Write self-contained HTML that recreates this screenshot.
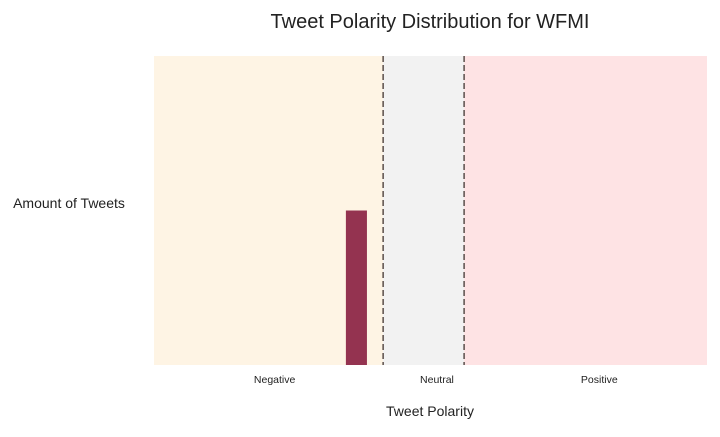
<!DOCTYPE html>
<html><head><meta charset="utf-8"><style>
body{margin:0;background:#fff;width:720px;height:432px;overflow:hidden;font-family:"Liberation Sans",sans-serif}
</style></head><body>
<svg id="chart" width="720" height="432">
<text x="430" y="28" text-anchor="middle" font-size="20" fill="#222">Tweet Polarity Distribution for WFMI</text>
<text x="69" y="208" text-anchor="middle" font-size="14" fill="#222">Amount of Tweets</text>
<text x="430" y="416" text-anchor="middle" font-size="14" fill="#222">Tweet Polarity</text>
<g id="plot"></g>
</svg>
<script>
const binStarts=[-0.096];
const binEnds=[-0.070];
const counts=[1];
const regionNames=["Negative","Neutral","Positive"];
const regionBounds=[-0.333,-0.05,0.05,0.35];
const regionLabelX=[-0.184,0.0165,0.217];
const yMaxVal=2;
const X0=154,X1=707,Y0=365,Y1=56;
const xs=v=>X0+(v-regionBounds[0])/(regionBounds[3]-regionBounds[0])*(X1-X0);
const ys=v=>Y0-(v/yMaxVal)*(Y0-Y1);
const NS="http://www.w3.org/2000/svg";
const g=document.getElementById('plot');
const colors=["#fef4e4","#f2f2f2","#fee3e4"];
function mk(t,a){const e=document.createElementNS(NS,t);for(const k in a)e.setAttribute(k,a[k]);g.appendChild(e);return e;}
for(let i=0;i<3;i++){
 const r=mk('rect',{x:xs(regionBounds[i]),y:Y1,width:xs(regionBounds[i+1])-xs(regionBounds[i]),height:Y0-Y1,fill:colors[i]});
 
 
 const t=mk('text',{x:xs(regionLabelX[i]),y:383,'text-anchor':'middle','font-size':10.5,fill:'#222'});
 t.textContent=regionNames[i];
 
 
}
for(let i=0;i<counts.length;i++){
 const b=mk('rect',{x:xs(binStarts[i]),y:ys(counts[i]),width:xs(binEnds[i])-xs(binStarts[i]),height:Y0-ys(counts[i]),fill:'#943350'});
 
 
}
[1,2].forEach(i=>{
 const l=mk('line',{x1:xs(regionBounds[i]),x2:xs(regionBounds[i]),y1:Y1,y2:Y0,stroke:'#5a4e4a','stroke-width':1.5,'stroke-dasharray':'6,3'});
 
 
});
</script>
</body></html>
